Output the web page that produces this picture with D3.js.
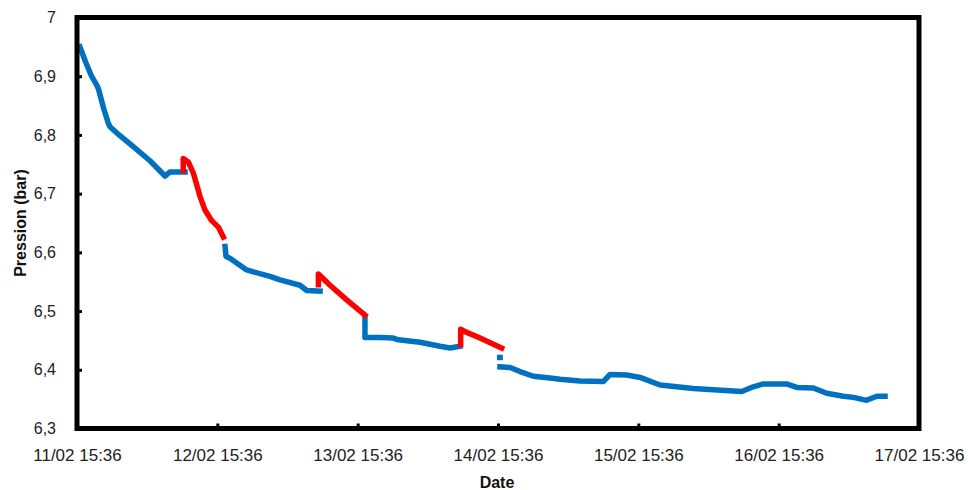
<!DOCTYPE html>
<html><head><meta charset="utf-8">
<script src="https://cdn.jsdelivr.net/npm/d3@7"></script>
<style>body{margin:0;background:#fff}svg{display:block}</style>
</head><body>
<script>
// x = days since 11/02 15:36
const xTickLabels = ["11/02 15:36","12/02 15:36","13/02 15:36","14/02 15:36","15/02 15:36","16/02 15:36","17/02 15:36"];
const yTicks = [6.3,6.4,6.5,6.6,6.7,6.8,6.9,7];

const blueSegments = [
  [[0.021,6.950],[0.060,6.925],[0.100,6.902],[0.140,6.885],[0.152,6.879],[0.190,6.845],[0.223,6.820],[0.235,6.814],[0.300,6.800],[0.401,6.780],[0.520,6.756],[0.627,6.730],[0.663,6.737],[0.770,6.737]],
  [[1.055,6.610],[1.062,6.593],[1.090,6.590],[1.209,6.570],[1.375,6.559],[1.447,6.553],[1.589,6.544],[1.637,6.535],[1.732,6.534]],
  [[2.052,6.490],[2.052,6.455],[2.159,6.455],[2.254,6.454],[2.290,6.451],[2.444,6.447],[2.587,6.440],[2.658,6.437],[2.729,6.440]],
  [[3.012,6.421],[3.015,6.421]],
  [[3.014,6.405],[3.086,6.404],[3.157,6.397],[3.252,6.389],[3.371,6.386],[3.442,6.384],[3.584,6.381],[3.750,6.380],[3.798,6.392],[3.917,6.391],[4.012,6.387],[4.155,6.374],[4.273,6.371],[4.392,6.368],[4.534,6.366],[4.677,6.364],[4.737,6.363],[4.819,6.371],[4.891,6.376],[5.057,6.376],[5.129,6.370],[5.247,6.369],[5.342,6.360],[5.461,6.355],[5.532,6.353],[5.627,6.348],[5.699,6.355],[5.758,6.355]]
];
const redSegments = [
  [[0.757,6.740],[0.757,6.760],[0.793,6.754],[0.829,6.735],[0.853,6.715],[0.877,6.695],[0.912,6.672],[0.960,6.654],[1.007,6.643],[1.043,6.626]],
  [[1.720,6.545],[1.720,6.563],[1.803,6.544],[1.922,6.519],[2.052,6.493]],
  [[2.734,6.443],[2.734,6.469],[2.765,6.465],[2.872,6.454],[3.026,6.437]]
];

const W = 968, H = 490;
const L = 77, R = 919, T = 17.5, B = 428.5;
const svg = d3.select("body").append("svg").attr("width", W).attr("height", H);
const x = d3.scaleLinear().domain([0, 6]).range([L, R]);
const y = d3.scaleLinear().domain([6.3, 7]).range([B, T]);
const font = "'Liberation Sans', Arial, sans-serif";

const line = d3.line().x(d => x(d[0])).y(d => y(d[1]));
svg.append("g").selectAll("path").data(blueSegments).join("path")
  .attr("d", line).attr("fill", "none").attr("stroke", "#0070C0")
  .attr("stroke-width", 5.5).attr("stroke-linejoin", "round").attr("stroke-linecap", "square");
svg.append("g").selectAll("path").data(redSegments).join("path")
  .attr("d", line).attr("fill", "none").attr("stroke", "#FF0000")
  .attr("stroke-width", 5.5).attr("stroke-linejoin", "round").attr("stroke-linecap", "square");

// axes
const yAxis = d3.axisLeft(y).tickValues(yTicks).tickSizeInner(-5).tickSizeOuter(0)
  .tickPadding(21).tickFormat(d => d3.format(".1f")(d).replace(".", ",").replace(",0", ""));
const gy = svg.append("g").attr("transform", `translate(${L},0)`).call(yAxis);
gy.select(".domain").remove();
gy.selectAll("line").attr("stroke", "#000").attr("stroke-width", 3);
gy.selectAll("text").attr("font-family", font).attr("font-size", 16).attr("fill", "#222");

const xAxis = d3.axisBottom(x).tickValues(d3.range(0, 7)).tickSizeInner(-5).tickSizeOuter(0)
  .tickPadding(20).tickFormat((d, i) => xTickLabels[i]);
const gx = svg.append("g").attr("transform", `translate(0,${B})`).call(xAxis);
gx.select(".domain").remove();
gx.selectAll("line").attr("stroke", "#000").attr("stroke-width", 3);
gx.selectAll("text").attr("font-family", font).attr("font-size", 17).attr("fill", "#222");

// frame
svg.append("rect").attr("x", L).attr("y", T).attr("width", R - L).attr("height", B - T)
  .attr("fill", "none").attr("stroke", "#000").attr("stroke-width", 5);

// titles
svg.append("text").attr("x", 497).attr("y", 488).attr("text-anchor", "middle")
  .attr("font-family", font).attr("font-weight", "bold").attr("font-size", 16).attr("fill", "#111").text("Date");
svg.append("text").attr("transform", `translate(26,223) rotate(-90)`).attr("text-anchor", "middle")
  .attr("font-family", font).attr("font-weight", "bold").attr("font-size", 16).attr("fill", "#111").text("Pression (bar)");
</script>
</body></html>
